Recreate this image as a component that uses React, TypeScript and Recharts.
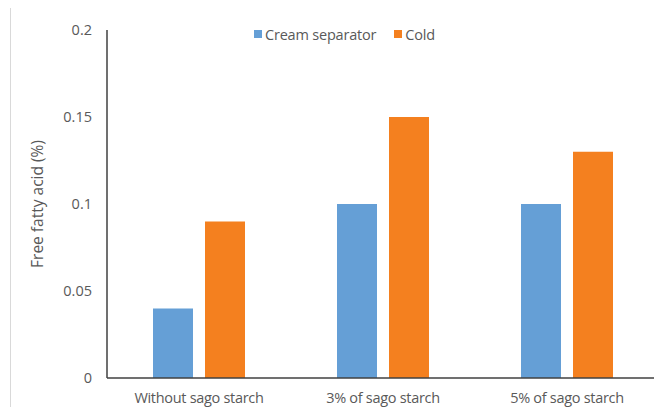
import { Bar, BarChart, Label, XAxis, YAxis } from "recharts";

const categories = ["Without sago starch", "3% of sago starch", "5% of sago starch"];
const creamSeparator = [0.04, 0.1, 0.1];
const cold = [0.09, 0.15, 0.13];
const yTicks = [0, 0.05, 0.1, 0.15, 0.2];

const data = categories.map((name, i) => ({
  name,
  cream: creamSeparator[i],
  cold: cold[i],
}));

const FONT = "'Open Sans', sans-serif";
const TEXT = "#595959";
const BLUE = "#659fd6";
const ORANGE = "#f4801f";

function TopLegend() {
  const item = (color: string, label: string) => (
    <span style={{ display: "inline-flex", alignItems: "center", marginRight: 18 }}>
      <span style={{ width: 8, height: 8, background: color, marginRight: 3, display: "inline-block" }} />
      {label}
    </span>
  );
  return (
    <div
      style={{
        position: "absolute",
        top: 23,
        left: 254,
        fontFamily: FONT,
        fontSize: 14.5,
        color: TEXT,
        whiteSpace: "nowrap",
        letterSpacing: -0.2,
      }}
    >
      {item(BLUE, "Cream separator")}
      {item(ORANGE, "Cold")}
    </div>
  );
}

export default function App() {
  return (
    <div style={{ margin: -8, width: 662, height: 415, position: "relative", background: "#fff" }}>
      <div
        style={{
          position: "absolute",
          left: 10,
          top: 0,
          width: 1,
          height: 415,
          background: "#d9d9d9",
        }}
      />
      <BarChart
        width={662}
        height={415}
        data={data}
        margin={{ top: 30, right: 3, left: 0, bottom: 0 }}
        barCategoryGap="25%"
        barGap={12}
      >
        <XAxis
          dataKey="name"
          height={37}
          tickLine={false}
          axisLine={{ stroke: "#404040", strokeWidth: 1.5 }}
          tickMargin={9}
          tick={{ fill: TEXT, fontSize: 14.5, fontFamily: FONT, letterSpacing: -0.3 }}
        />
        <YAxis
          width={107}
          domain={[0, 0.2]}
          ticks={yTicks}
          tickLine={false}
          tickSize={0}
          tickMargin={15}
          axisLine={{ stroke: "#404040", strokeWidth: 1.5 }}
          tick={{ fill: TEXT, fontSize: 14.5, fontFamily: FONT }}
        >
          <Label
            value="Free fatty acid (%)"
            angle={-90}
            position="insideLeft"
            offset={37}
            style={{ fill: TEXT, fontSize: 15.5, fontFamily: FONT, textAnchor: "middle" }}
          />
        </YAxis>
        <Bar dataKey="cream" name="Cream separator" fill={BLUE} isAnimationActive={false} />
        <Bar dataKey="cold" name="Cold" fill={ORANGE} isAnimationActive={false} />
      </BarChart>
      <TopLegend />
    </div>
  );
}
